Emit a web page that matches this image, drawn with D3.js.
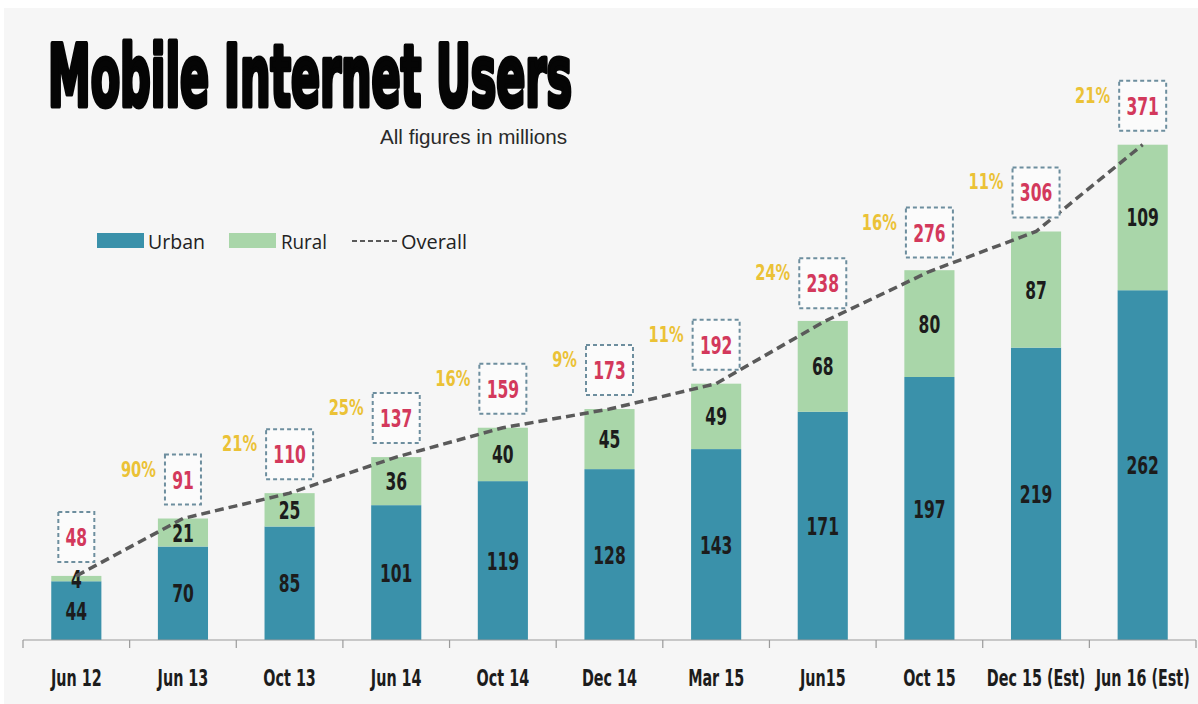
<!DOCTYPE html>
<html>
<head>
<meta charset="utf-8">
<script src="https://cdn.jsdelivr.net/npm/d3@7"></script>
<style>
  html, body { margin: 0; padding: 0; background: #ffffff; }
  svg { display: block; }
</style>
</head>
<body>
<svg id="chart" width="1198" height="704"></svg>
<script>
// Mobile internet users in India, in millions
const categories = ["Jun 12", "Jun 13", "Oct 13", "Jun 14", "Oct 14", "Dec 14", "Mar 15", "Jun15", "Oct 15", "Dec 15 (Est)", "Jun 16 (Est)"];
const urban = [44, 70, 85, 101, 119, 128, 143, 171, 197, 219, 262];
const rural = [4, 21, 25, 36, 40, 45, 49, 68, 80, 87, 109];
const overall = [48, 91, 110, 137, 159, 173, 192, 238, 276, 306, 371];
const growth = [null, "90%", "21%", "25%", "16%", "9%", "11%", "24%", "16%", "11%", "21%"];

const W = 1198, H = 704;
const svg = d3.select("#chart");

const C = {
  bg: "#f6f6f6",
  urban: "#3a91aa",
  rural: "#a9d6a9",
  line: "#5a5a5a",
  total: "#d3395c",
  growth: "#ebc236",
  box: "#6d8e9e",
  text: "#1c1c1c",
  axis: "#9a9a9a"
};
const cond = "'DejaVu Sans Condensed', 'DejaVu Sans', sans-serif";
const body = "'Open Sans', 'Noto Sans', sans-serif";

// Narrow a bold condensed label horizontally, keeping its anchor
function squeeze(sel, f) {
  sel.each(function () {
    const len = this.getComputedTextLength();
    d3.select(this).attr("textLength", len * f).attr("lengthAdjust", "spacingAndGlyphs");
  });
}

svg.append("rect").attr("x", 4).attr("y", 8).attr("width", W - 4).attr("height", H - 8).attr("fill", C.bg);

// Title and subtitle
svg.append("text")
  .attr("x", 48).attr("y", 106)
  .attr("textLength", 524).attr("lengthAdjust", "spacingAndGlyphs")
  .attr("font-family", cond).attr("font-weight", 700).attr("font-size", 86)
  .attr("fill", "#050505").attr("stroke", "#050505").attr("stroke-width", 5)
  .attr("stroke-linejoin", "round")
  .text("Mobile Internet Users");

svg.append("text")
  .attr("x", 567).attr("y", 144).attr("text-anchor", "end")
  .attr("font-family", "'Liberation Sans', Arial, sans-serif").attr("font-size", 20).attr("fill", "#2a2a2a")
  .attr("textLength", 187).attr("lengthAdjust", "spacingAndGlyphs")
  .text("All figures in millions");

// Scales
const x = d3.scaleBand().domain(categories).range([23, 1196]).paddingInner(0.53).paddingOuter(0.265);
const y = d3.scaleLinear().domain([0, 400]).range([640, 106]);

const rows = categories.map((c, i) => ({ c, u: urban[i], r: rural[i], t: overall[i], g: growth[i] }));
const cx = d => x(d.c) + x.bandwidth() / 2;

// Stacked bars
const g = svg.append("g");
g.selectAll("rect.urban").data(rows).join("rect")
  .attr("class", "urban")
  .attr("x", d => x(d.c)).attr("width", x.bandwidth())
  .attr("y", d => y(d.u)).attr("height", d => y(0) - y(d.u))
  .attr("fill", C.urban);
g.selectAll("rect.rural").data(rows).join("rect")
  .attr("class", "rural")
  .attr("x", d => x(d.c)).attr("width", x.bandwidth())
  .attr("y", d => y(d.u + d.r)).attr("height", d => y(d.u) - y(d.u + d.r))
  .attr("fill", C.rural);

// Axis line with boundary ticks
const step = x.step();
const x0 = x.range()[0];
svg.append("line").attr("x1", x0).attr("x2", x.range()[1]).attr("y1", y(0)).attr("y2", y(0))
  .attr("stroke", C.axis).attr("stroke-width", 1.2);
svg.selectAll("line.tick").data(d3.range(categories.length + 1)).join("line")
  .attr("class", "tick")
  .attr("x1", i => x0 + i * step).attr("x2", i => x0 + i * step)
  .attr("y1", y(0)).attr("y2", y(0) + 8)
  .attr("stroke", C.axis).attr("stroke-width", 1.2);

// Category labels, narrowed with a transform so their boxes stay tight
svg.selectAll("text.cat").data(rows).join("text")
  .attr("class", "cat")
  .attr("transform", d => `translate(${cx(d)},686) scale(0.76,1.12)`)
  .attr("text-anchor", "middle")
  .attr("font-family", cond).attr("font-weight", 700).attr("font-size", 21)
  .attr("fill", C.text)
  .text(d => d.c);

// Segment value labels
svg.selectAll("text.uval").data(rows).join("text")
  .attr("class", "uval")
  .attr("x", cx).attr("y", d => (y(d.u) + y(0)) / 2 + 9)
  .attr("text-anchor", "middle")
  .attr("font-family", cond).attr("font-weight", 700).attr("font-size", 24)
  .attr("fill", C.text)
  .text(d => d.u)
  .call(squeeze, 0.72);
svg.selectAll("text.rval").data(rows).join("text")
  .attr("class", "rval")
  .attr("x", cx).attr("y", d => (y(d.u + d.r) + y(d.u)) / 2 + 9)
  .attr("text-anchor", "middle")
  .attr("font-family", cond).attr("font-weight", 700).attr("font-size", 24)
  .attr("fill", C.text)
  .text(d => d.r)
  .call(squeeze, 0.72);

// Overall trend line through bar tops
const line = d3.line().x(d => cx(d)).y(d => y(d.t));
svg.append("path").datum(rows)
  .attr("d", line)
  .attr("fill", "none").attr("stroke", C.line).attr("stroke-width", 3.5)
  .attr("stroke-dasharray", "9,5");

// Total labels in dashed boxes
const boxH = 50, gap = 14;
const boxW = d => String(d.t).length === 2 ? 36 : 47;
svg.selectAll("rect.box").data(rows).join("rect")
  .attr("class", "box")
  .attr("x", d => cx(d) - boxW(d) / 2).attr("width", boxW)
  .attr("y", d => y(d.t) - gap - boxH).attr("height", boxH)
  .attr("fill", "#fbfbfb").attr("stroke", C.box).attr("stroke-width", 2)
  .attr("stroke-dasharray", "4,3");
svg.selectAll("text.total").data(rows).join("text")
  .attr("class", "total")
  .attr("x", cx).attr("y", d => y(d.t) - gap - boxH / 2 + 9)
  .attr("text-anchor", "middle")
  .attr("font-family", cond).attr("font-weight", 700).attr("font-size", 24)
  .attr("fill", C.total)
  .text(d => d.t)
  .call(squeeze, 0.72);

// Growth percentages
svg.selectAll("text.growth").data(rows.filter(d => d.g)).join("text")
  .attr("class", "growth")
  .attr("x", d => cx(d) - boxW(d) / 2 - 9).attr("y", d => y(d.t) - gap - boxH / 2 - 3)
  .attr("text-anchor", "end")
  .attr("font-family", cond).attr("font-weight", 700).attr("font-size", 22)
  .attr("fill", C.growth)
  .text(d => d.g)
  .call(squeeze, 0.74);

// Legend
const lg = svg.append("g").attr("font-family", body).attr("font-size", 20).attr("fill", "#222");
lg.append("rect").attr("x", 97).attr("y", 233).attr("width", 47).attr("height", 15).attr("fill", C.urban);
lg.append("text").attr("x", 148).attr("y", 249).attr("textLength", 57).attr("lengthAdjust", "spacingAndGlyphs").text("Urban");
lg.append("rect").attr("x", 229).attr("y", 233).attr("width", 47).attr("height", 15).attr("fill", C.rural);
lg.append("text").attr("x", 281).attr("y", 249).attr("textLength", 46).attr("lengthAdjust", "spacingAndGlyphs").text("Rural");
lg.append("line").attr("x1", 352).attr("x2", 399).attr("y1", 241).attr("y2", 241)
  .attr("stroke", C.line).attr("stroke-width", 2).attr("stroke-dasharray", "5,3");
lg.append("text").attr("x", 401).attr("y", 249).attr("textLength", 66).attr("lengthAdjust", "spacingAndGlyphs").text("Overall");
</script>
</body>
</html>
